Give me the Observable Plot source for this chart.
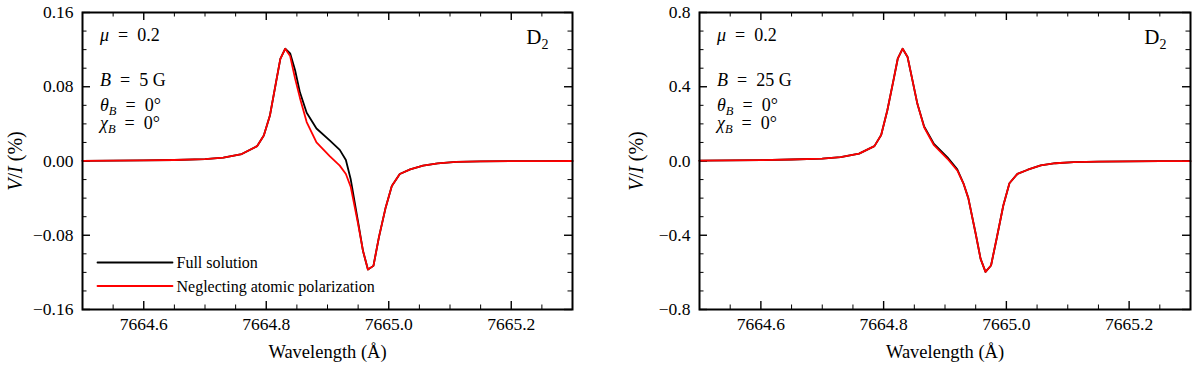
<!DOCTYPE html>
<html><head><meta charset="utf-8">
<script src="https://cdn.jsdelivr.net/npm/d3@7"></script>
<script src="https://cdn.jsdelivr.net/npm/@observablehq/plot@0.6"></script>
<style>
body{margin:0;background:#fff;}
#wrap{display:flex;width:1200px;height:368px;}
#wrap svg{display:block;}
#wrap svg, #wrap svg text{font-family:"Liberation Serif","Times New Roman",serif !important;}
</style></head><body><div id="wrap"></div>
<script>
// Wavelength grid (Å)
const wavelength = [7664.50, 7664.55, 7664.60, 7664.65, 7664.70, 7664.73, 7664.76, 7664.785,
  7664.796, 7664.806, 7664.816, 7664.823, 7664.831, 7664.839, 7664.847, 7664.855,
  7664.866, 7664.882, 7664.904, 7664.920, 7664.930, 7664.938, 7664.950, 7664.958,
  7664.966, 7664.975, 7664.984, 7664.995, 7665.005, 7665.018, 7665.035, 7665.056,
  7665.080, 7665.11, 7665.15, 7665.20, 7665.25, 7665.30];
// V/I (%) at B = 5 G
const neglect5 = [0.0002, 0.0004, 0.0007, 0.0011, 0.002, 0.0037, 0.0075, 0.016,
  0.0275, 0.049, 0.085, 0.110, 0.121, 0.113, 0.089, 0.068,
  0.042, 0.020, 0.005, -0.005, -0.014, -0.028, -0.068, -0.097,
  -0.117, -0.113, -0.082, -0.050, -0.027, -0.014, -0.009, -0.005,
  -0.0025, -0.001, -0.0005, -0.0002, -0.0001, 0];
const full5 = [0.0002, 0.0004, 0.0007, 0.0011, 0.002, 0.0037, 0.0075, 0.016,
  0.0275, 0.049, 0.085, 0.110, 0.121, 0.116, 0.098, 0.074,
  0.052, 0.035, 0.022, 0.012, 0.001, -0.020, -0.066, -0.097,
  -0.117, -0.113, -0.082, -0.050, -0.027, -0.014, -0.009, -0.005,
  -0.0025, -0.001, -0.0005, -0.0002, -0.0001, 0];
// V/I (%) at B = 25 G
const neglect25 = [0.002, 0.003, 0.005, 0.008, 0.013, 0.021, 0.040, 0.080,
  0.140, 0.272, 0.434, 0.551, 0.605, 0.560, 0.434, 0.308,
  0.182, 0.085, 0.012, -0.051, -0.120, -0.200, -0.392, -0.527,
  -0.597, -0.563, -0.420, -0.240, -0.120, -0.069, -0.047, -0.024,
  -0.012, -0.006, -0.003, -0.0015, -0.0008, -0.0004];
const full25 = [0.002, 0.003, 0.005, 0.008, 0.013, 0.021, 0.040, 0.080,
  0.140, 0.272, 0.434, 0.551, 0.605, 0.560, 0.434, 0.308,
  0.186, 0.092, 0.020, -0.045, -0.120, -0.200, -0.392, -0.527,
  -0.597, -0.563, -0.420, -0.240, -0.120, -0.069, -0.047, -0.024,
  -0.012, -0.006, -0.003, -0.0015, -0.0008, -0.0004];

// Ticks
const xDomain = [7664.5, 7665.3];
const xMajor = [7664.6, 7664.8, 7665.0, 7665.2];
const xMinor = [7664.55, 7664.65, 7664.7, 7664.75, 7664.85, 7664.9, 7664.95, 7665.05, 7665.1, 7665.15, 7665.25];
const yMajor5 = [-0.16, -0.08, 0, 0.08, 0.16];
const yMinor5 = [-0.14, -0.12, -0.1, -0.06, -0.04, -0.02, 0.02, 0.04, 0.06, 0.1, 0.12, 0.14];
const yMajor25 = [-0.8, -0.4, 0, 0.4, 0.8];
const yMinor25 = [-0.7, -0.6, -0.5, -0.3, -0.2, -0.1, 0.1, 0.2, 0.3, 0.5, 0.6, 0.7];

// Texts
const seriesNames = ["Full solution", "Neglecting atomic polarization"];
const muLabel = "μ = 0.2";
const lineLabel = "D2";
const thetaLabel = "θB = 0°";
const chiLabel = "χB = 0°";
const xLabel = "Wavelength (Å)";
const yLabel = "V/I (%)";

const SP = "\u2002";
const RICH = {
  "μ = 0.2": `<tspan font-style="italic">μ</tspan>${SP}=${SP}0.2`,
  "B = 5 G": `<tspan font-style="italic">B</tspan>${SP}=${SP}5 G`,
  "B = 25 G": `<tspan font-style="italic">B</tspan>${SP}=${SP}25 G`,
  "θB = 0°": `<tspan font-style="italic">θ</tspan><tspan font-style="italic" font-size="12.5" dy="4">B</tspan><tspan dy="-4">${SP}=${SP}0°</tspan>`,
  "χB = 0°": `<tspan font-style="italic">χ</tspan><tspan font-style="italic" font-size="12.5" dy="4">B</tspan><tspan dy="-4">${SP}=${SP}0°</tspan>`,
  "D2": `D<tspan font-size="14" dy="5">2</tspan>`,
  "V/I (%)": `<tspan font-style="italic">V</tspan>/<tspan font-style="italic">I</tspan> (%)`
};

const lineShape = {draw(context, l) { context.moveTo(0, 0); context.lineTo(0, -l); }};

function panel({full, neglect, yDomain, yMajor, yMinor, yFmt, bLabel, marginLeft, marginRight, yLabelDx, legend}) {
  const W = 600, H = 368, mt = 12, mb = 59;
  const pw = W - marginLeft - marginRight, ph = H - mt - mb;
  const rows = wavelength.map((w, i) => ({w, full: full[i], neg: neglect[i]}));
  const tickStyle = (w) => ({stroke: "black", strokeWidth: w});
  const marks = [
    Plot.tickY(yMinor, {y: d => d, insetRight: pw - 4.5, ...tickStyle(1)}),
    Plot.tickY(yMinor, {y: d => d, insetLeft: pw - 4.5, ...tickStyle(1)}),
    Plot.tickY(yMajor, {y: d => d, insetRight: pw - 8, ...tickStyle(1.4)}),
    Plot.tickY(yMajor, {y: d => d, insetLeft: pw - 8, ...tickStyle(1.4)}),
    Plot.tickX(xMinor, {x: d => d, insetTop: ph - 4.5, ...tickStyle(1)}),
    Plot.tickX(xMinor, {x: d => d, insetBottom: ph - 4.5, ...tickStyle(1)}),
    Plot.tickX(xMajor, {x: d => d, insetTop: ph - 8, ...tickStyle(1.4)}),
    Plot.tickX(xMajor, {x: d => d, insetBottom: ph - 8, ...tickStyle(1.4)}),
    Plot.line(rows, {x: "w", y: "full", stroke: "black", strokeWidth: 1.8}),
    Plot.line(rows, {x: "w", y: "neg", stroke: "red", strokeWidth: 1.8}),
    Plot.axisX({ticks: xMajor, tickSize: 0, tickPadding: 8, tickFormat: d3.format(".1f"), label: null}),
    Plot.axisY({ticks: yMajor, tickSize: 0, tickPadding: 9, tickFormat: d3.format(yFmt), label: null}),
    Plot.text([xLabel], {frameAnchor: "bottom", dy: 43, fontSize: 18.5, textAnchor: "middle", lineAnchor: "middle"}),
    Plot.text([yLabel], {frameAnchor: "left", dx: yLabelDx, rotate: -90, fontSize: 20, textAnchor: "middle", lineAnchor: "middle"}),
    Plot.text([muLabel], {frameAnchor: "top-left", dx: 17.5, dy: 28.7, textAnchor: "start", lineAnchor: "bottom", fontSize: 18}),
    Plot.text([bLabel], {frameAnchor: "top-left", dx: 17.5, dy: 73, textAnchor: "start", lineAnchor: "bottom", fontSize: 18}),
    Plot.text([thetaLabel], {frameAnchor: "top-left", dx: 17.5, dy: 98.5, textAnchor: "start", lineAnchor: "bottom", fontSize: 18}),
    Plot.text([chiLabel], {frameAnchor: "top-left", dx: 17.5, dy: 116.5, textAnchor: "start", lineAnchor: "bottom", fontSize: 18}),
    Plot.text([lineLabel], {frameAnchor: "top-right", dx: -24, dy: 31.3, textAnchor: "end", lineAnchor: "bottom", fontSize: 21})
  ];
  if (legend) {
    marks.push(
      Plot.vector([0], {frameAnchor: "bottom-left", dx: 15, dy: -47, rotate: 90, length: 75, anchor: "start", shape: lineShape, stroke: "black", strokeWidth: 1.8}),
      Plot.vector([0], {frameAnchor: "bottom-left", dx: 15, dy: -23.5, rotate: 90, length: 75, anchor: "start", shape: lineShape, stroke: "red", strokeWidth: 1.8}),
      Plot.text([seriesNames[0]], {frameAnchor: "bottom-left", dx: 94, dy: -41.5, textAnchor: "start", lineAnchor: "bottom", fontSize: 16}),
      Plot.text([seriesNames[1]], {frameAnchor: "bottom-left", dx: 94, dy: -18, textAnchor: "start", lineAnchor: "bottom", fontSize: 16})
    );
  }
  marks.push(Plot.frame({stroke: "black", strokeWidth: 2}));
  const svg = Plot.plot({
    width: W, height: H,
    marginTop: mt, marginBottom: mb, marginLeft, marginRight,
    x: {domain: xDomain},
    y: {domain: yDomain},
    style: {fontFamily: "Liberation Serif", fontSize: "17.5px", color: "black", background: "white", overflow: "visible"},
    marks
  });
  svg.setAttribute("font-family", "Liberation Serif");
  svg.querySelectorAll("text").forEach(t => {
    const s = t.textContent;
    if (RICH[s]) t.innerHTML = RICH[s];
  });
  return svg;
}

const wrap = document.getElementById("wrap");
wrap.append(panel({full: full5, neglect: neglect5, yDomain: [-0.16, 0.16], yMajor: yMajor5, yMinor: yMinor5, yFmt: ".2f",
  bLabel: "B = 5 G", marginLeft: 82, marginRight: 28, yLabelDx: -66.5, legend: true}));
wrap.append(panel({full: full25, neglect: neglect25, yDomain: [-0.8, 0.8], yMajor: yMajor25, yMinor: yMinor25, yFmt: ".1f",
  bLabel: "B = 25 G", marginLeft: 99, marginRight: 10, yLabelDx: -62.5, legend: false}));
</script></body></html>
